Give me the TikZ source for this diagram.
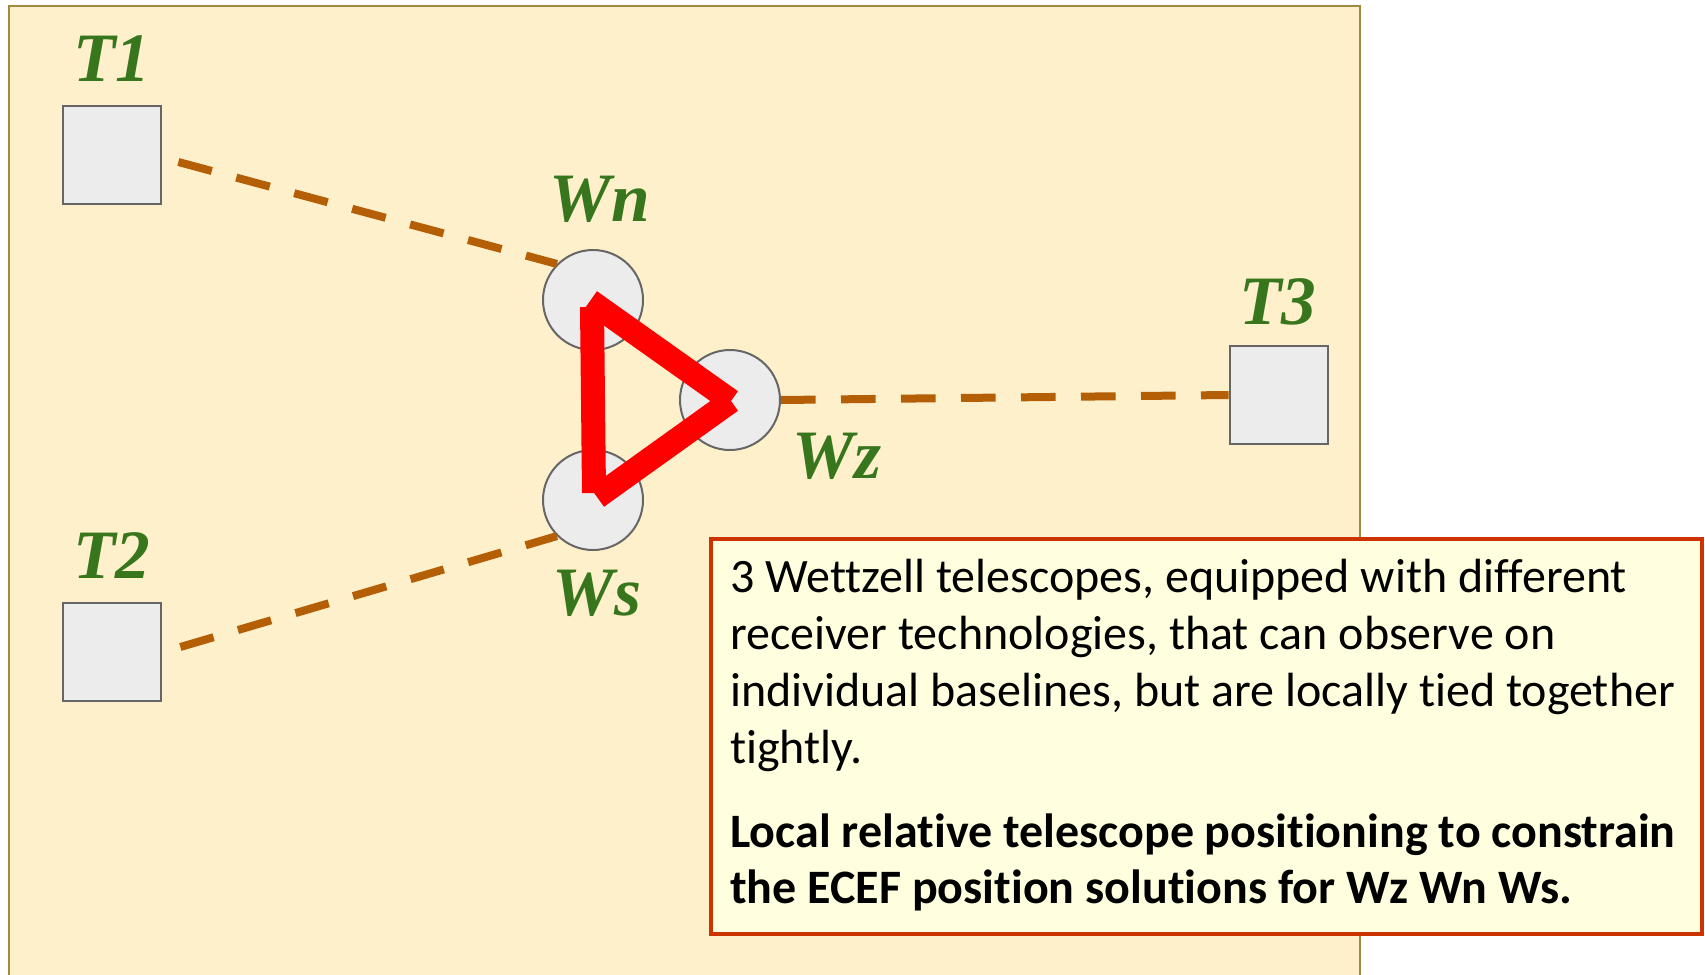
\documentclass[tikz,border=0pt]{standalone}
\usepackage{fontspec}
\newfontfamily\labelfont{Liberation Serif}
\newfontfamily\bodyfont{Carlito}[Ligatures={NoCommon}]
\definecolor{bgfill}{HTML}{FFF0CC}
\definecolor{bgline}{HTML}{A08A40}
\definecolor{lblgreen}{HTML}{38761D}
\definecolor{linkcol}{HTML}{B45F06}
\definecolor{telefill}{HTML}{ECECEC}
\definecolor{telegray}{HTML}{666666}
\definecolor{notefill}{HTML}{FFFFE0}
\definecolor{noteline}{HTML}{CC3300}
\definecolor{tiered}{HTML}{FF0000}
\tikzset{
  remote/.style={rectangle, draw=telegray, fill=telefill, line width=1.5pt, minimum width=74pt, minimum height=74pt, inner sep=0pt},
  local/.style={circle, draw=telegray, fill=telefill, line width=1.5pt, minimum size=75pt, inner sep=0pt},
  lbl/.style={font=\labelfont\bfseries\itshape\fontsize{52}{52}\selectfont, text=lblgreen, anchor=base, inner sep=0pt},
  link/.style={draw=linkcol, line width=6pt, dash pattern=on 26pt off 19pt},
  tie/.style={draw=tiered, line width=18pt, line cap=butt},
  notebox/.style={rectangle, draw=noteline, fill=notefill, line width=3pt, anchor=north west, minimum width=743pt, minimum height=296pt, inner sep=0pt},
  notetxt/.style={font=\bodyfont\fontsize{36}{42}\selectfont, anchor=base west, inner sep=0pt},
  notebold/.style={notetxt, font=\bodyfont\bfseries\fontsize{36}{42}\selectfont}
}
\begin{document}
\begin{tikzpicture}[x=0.75pt, y=-0.75pt]
\useasboundingbox (0,0) rectangle (1705,974);
% background panel
\draw[bgline, fill=bgfill, line width=1.9pt] (9,6) rectangle (1360,1000);
% telescopes
\node[remote] (T1) at (112,155) {};
\node[remote] (T2) at (112,652) {};
\node[remote] (T3) at (1279,395) {};
\node[local] (Wn) at (593,300) {};
\node[local] (Wz) at (730,400) {};
\node[local] (Ws) at (593,500) {};
% baselines
\draw[link] ([xshift=12pt,yshift=-5.25pt]T1.east) -- (Wn.135);
\draw[link] ([xshift=13.5pt,yshift=3.75pt]T2.east) -- (Ws.225);
\draw[link] (Wz.east) -- (T3.west);
% local tie triangle
\coordinate (ta) at (592,307);
\coordinate (tb) at (594,493);
\coordinate (tc) at (590,301);
\coordinate (td) at (731,401);
\coordinate (te) at (597,497);
\draw[tie] (ta) -- (tb);
\draw[tie] (tc) -- (td);
\draw[tie] (td) -- (te);
% labels
\node[lbl] (lT1) at (112,81) {T1};
\node[lbl] (lT2) at (112,578) {T2};
\node[lbl] (lT3) at (1278,324) {T3};
\node[lbl] (lWn) at (600,221) {Wn};
\node[lbl] (lWz) at (837,478) {Wz};
\node[lbl] (lWs) at (597,615) {Ws};
% note
\node[notebox] (note) at (709,537) {};
\node[notetxt] (n1) at (730,592) {3 Wettzell telescopes, equipped with different};
\node[notetxt] (n2) at (730,649) {receiver technologies, that can observe on};
\node[notetxt] (n3) at (730,706) {individual baselines, but are locally tied together};
\node[notetxt] (n4) at (730,763) {tightly.};
\node[notebold] (n5) at (730,847) {Local relative telescope positioning to constrain};
\node[notebold] (n6) at (730,903) {the ECEF position solutions for Wz Wn Ws.};
\end{tikzpicture}
\end{document}
